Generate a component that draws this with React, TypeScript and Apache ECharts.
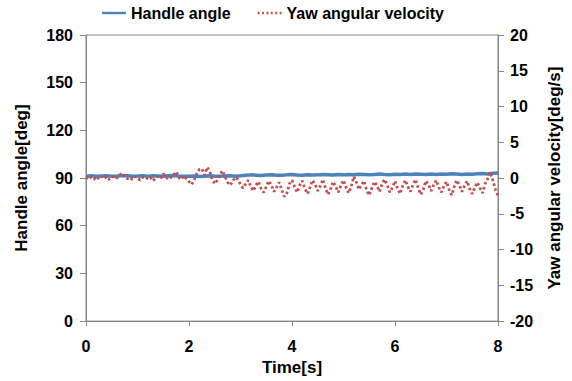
import React, { useEffect, useRef } from "react";
import * as echarts from "echarts";

const timeTicks = [0, 2, 4, 6, 8];

// Handle angle [deg], sampled every 0.1 s from 0 to 8 s
const handleAngle = [
  91.2, 91.4, 91.1, 91.3, 91.5, 91.2, 91.3, 91.6, 91.4, 91.2,
  91.3, 91.5, 91.2, 91.4, 91.3, 91.1, 91.4, 91.6, 91.3, 91.2,
  91.1, 91.3, 91.0, 91.2, 91.4, 91.1, 91.2, 91.3, 91.5, 91.2,
  91.4, 91.7, 92.0, 91.8, 91.6, 91.9, 92.1, 91.8, 91.7, 92.0,
  92.2, 91.9, 91.8, 92.1, 91.9, 92.0, 92.3, 92.1, 91.9, 92.2,
  92.0, 92.3, 92.1, 92.4, 92.2, 92.0, 92.3, 92.5, 92.2, 92.1,
  92.4, 92.2, 92.5, 92.3, 92.6, 92.4, 92.2, 92.5, 92.3, 92.6,
  92.4, 92.7, 92.5, 92.3, 92.6, 92.4, 92.7, 92.8, 92.6, 93.0,
  93.2,
];

// Yaw angular velocity [deg/s], sampled every 0.05 s from 0 to 8 s
const yawVelocity = [
  0.1, -0.2, 0.2, 0.0, -0.3, 0.1, 0.3, -0.1, 0.2, -0.2,
  0.1, 0.3, 0.0, 0.4, 0.7, 0.2, -0.1, 0.1, -0.2, 0.2,
  0.0, -0.3, 0.1, 0.2, -0.1, 0.1, -0.4, 0.0, 0.2, -0.1,
  0.6, 0.2, -0.2, 0.1, 0.4, 0.9, 0.1, -0.2, 0.3, -0.1,
  -0.5, -0.9, -0.3, 0.6, 1.2, 1.3, 0.4, 1.5, 1.0, -0.2,
  -0.8, -0.3, 0.5, 1.0, 0.2, -0.6, -1.0, -0.4, 0.1, -0.2,
  -0.9, -1.4, -0.8, -0.3, -1.2, -1.8, -1.0, -0.5, -1.5, -2.0,
  -1.2, -0.4, -1.0, -1.9, -1.3, -0.6, -1.6, -2.6, -2.1, -0.8,
  -0.3, -1.2, -2.0, -1.0, -0.4, -1.5, -2.2, -1.3, -0.3, -0.9,
  -1.8, -1.1, -0.2, -1.4, -2.3, -1.5, -0.5, -1.2, -2.0, -1.0,
  -0.3, -1.3, -2.1, -1.2, 0.2, -0.6, -1.6, -0.9, -0.4, -1.7,
  -2.4, -1.4, -0.5, -1.1, -1.9, -0.8, -0.2, -1.0, -2.0, -1.3,
  -0.4, -1.5, -2.2, -1.1, -0.3, -1.2, -1.9, -0.9, -0.2, -1.4,
  -2.3, -1.6, -0.4, -0.9, -1.8, -1.0, -0.3, -1.3, -2.0, -1.1,
  -0.5, -1.6, -2.4, -1.2, -0.3, -1.0, -1.9, -1.1, -0.4, -1.5,
  -2.2, -1.3, -0.6, -1.4, -2.1, -0.8, -0.1, 0.8, -0.3, -1.6,
  -2.5,
];

const FONT = "'Liberation Sans', Arial, sans-serif";
const AXIS_GREY = "#868686";
const BLUE = "#4F81BD";
const RED = "#C0504D";

const SOLID_ICON = "path://M0,0h30v3h-30z";
const DOTTED_ICON =
  "path://M0,0h2.4v3h-2.4zM5.4,0h2.4v3h-2.4zM10.8,0h2.4v3h-2.4zM16.2,0h2.4v3h-2.4zM21.6,0h2.4v3h-2.4zM27,0h2.4v3h-2.4z";

export default function App() {
  const ref = useRef<HTMLDivElement>(null);

  useEffect(() => {
    if (!ref.current) return;
    const chart = echarts.init(ref.current, undefined, { renderer: "svg" });

    const handleData = handleAngle.map((v, i) => [i * 0.1, v]);
    const yawData = yawVelocity.map((v, i) => [i * 0.05, v]);

    const tickLabel = {
      fontFamily: FONT,
      fontWeight: "bold" as const,
      fontSize: 16,
      color: "#000",
    };
    const nameStyle = {
      fontFamily: FONT,
      fontWeight: "bold" as const,
      fontSize: 17,
      color: "#000",
    };

    chart.setOption({
      animation: false,
      backgroundColor: "#fff",
      legend: {
        top: 0,
        left: 97,
        itemGap: 27,
        itemWidth: 24,
        itemHeight: 3,
        textStyle: { fontFamily: FONT, fontWeight: "bold", fontSize: 16, color: "#000" },
        data: [
          { name: "Handle angle", icon: SOLID_ICON, itemStyle: { color: BLUE } },
          { name: "Yaw angular velocity", icon: DOTTED_ICON, itemStyle: { color: RED } },
        ],
      },
      grid: {
        left: 86,
        right: 74,
        top: 35,
        bottom: 57,
        show: true,
        borderColor: AXIS_GREY,
        borderWidth: 1,
        backgroundColor: "transparent",
      },
      xAxis: {
        type: "value",
        min: 0,
        max: 8,
        interval: 2,
        name: "Time[s]",
        nameLocation: "middle",
        nameGap: 37,
        nameTextStyle: nameStyle,
        axisLine: { show: true, lineStyle: { color: AXIS_GREY, width: 1 } },
        axisTick: { show: true, inside: false, length: 5, lineStyle: { color: AXIS_GREY } },
        axisLabel: { ...tickLabel, margin: 17, formatter: (v: number) => (timeTicks.includes(v) ? String(v) : "") },
        splitLine: { show: false },
      },
      yAxis: [
        {
          type: "value",
          position: "left",
          min: 0,
          max: 180,
          interval: 30,
          name: "Handle angle[deg]",
          nameLocation: "middle",
          nameRotate: 90,
          nameGap: 56,
          nameTextStyle: nameStyle,
          axisLine: { show: true, lineStyle: { color: AXIS_GREY, width: 1 } },
          axisTick: { show: true, inside: false, length: 6, lineStyle: { color: AXIS_GREY } },
          axisLabel: { ...tickLabel, margin: 13 },
          splitLine: { show: false },
        },
        {
          type: "value",
          position: "right",
          min: -20,
          max: 20,
          interval: 5,
          name: "Yaw angular velocity[deg/s]",
          nameLocation: "middle",
          nameRotate: 90,
          nameGap: 48,
          nameTextStyle: nameStyle,
          axisLine: { show: true, lineStyle: { color: AXIS_GREY, width: 1 } },
          axisTick: { show: true, inside: false, length: 6, lineStyle: { color: AXIS_GREY } },
          axisLabel: { ...tickLabel, margin: 12 },
          splitLine: { show: false },
        },
      ],
      series: [
        {
          name: "Handle angle",
          type: "line",
          yAxisIndex: 0,
          data: handleData,
          showSymbol: false,
          symbol: "none",
          color: BLUE,
          lineStyle: { color: BLUE, width: 3.5 },
          z: 2,
        },
        {
          name: "Yaw angular velocity",
          type: "line",
          yAxisIndex: 1,
          data: yawData,
          showSymbol: false,
          symbol: "none",
          color: RED,
          lineStyle: { color: RED, width: 2.8, type: [2.5, 2.5] },
          z: 3,
        },
      ],
    });

    return () => chart.dispose();
  }, []);

  return (
    <div
      ref={ref}
      style={{ position: "absolute", left: 0, top: 0, width: 572, height: 381 }}
    />
  );
}
